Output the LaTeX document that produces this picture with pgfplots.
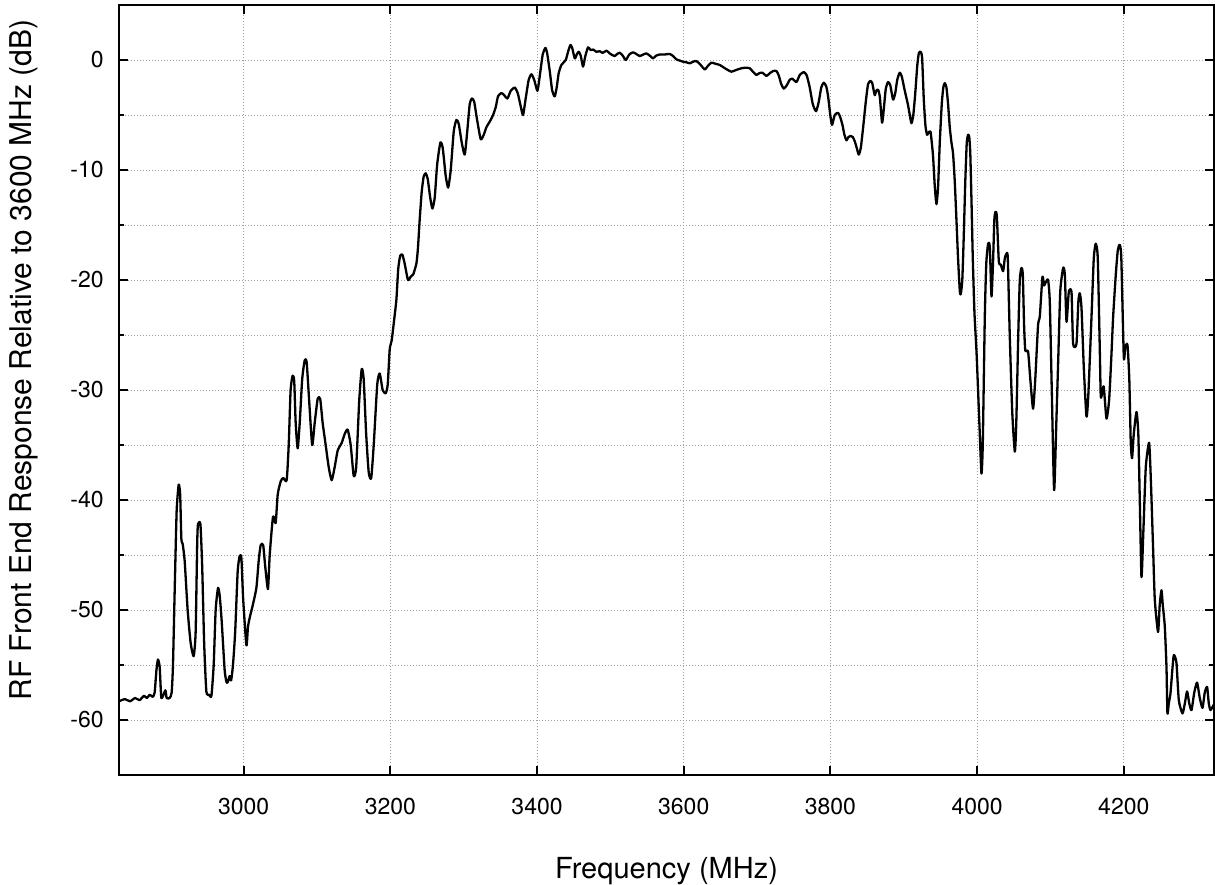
\documentclass[border=0pt]{standalone}
\usepackage{fontspec}
\setmainfont{TeX Gyre Heros}
\usepackage{pgfplots}
\pgfplotsset{compat=1.18}
\begin{document}
\begin{tikzpicture}
\begin{axis}[
  at={(0,0)}, anchor=south west,
  scale only axis, width=547.5pt, height=385pt,
  xmin=2830, xmax=4323, ymin=-65, ymax=5,
  xtick={3000,3200,...,4200},
  ytick={-60,-50,...,0},
  minor ytick={-55,-45,...,-5},
  /pgf/number format/assume math mode=true,
  /pgf/number format/1000 sep={},
  tick label style={font=\fontsize{11.5}{13}\selectfont},
  xticklabel style={anchor=north, inner sep=0pt, yshift=-11.5pt},
  yticklabel style={anchor=east, inner sep=0pt, xshift=-7.5pt},
  tick align=inside,
  xtick pos=both, ytick pos=both,
  xticklabel pos=left, yticklabel pos=left,
  major tick length=4.5pt, minor tick length=2.5pt,
  every tick/.style={black, line width=1pt},
  axis line style={line width=1pt},
  grid=both,
  major grid style={gray!75, line width=0.5pt, dash pattern=on 0.5pt off 1pt},
  minor grid style={gray!75, line width=0.5pt, dash pattern=on 0.5pt off 1pt},
  xlabel={Frequency (MHz)},
  ylabel={RF Front End Response Relative to 3600 MHz (dB)},
  xlabel style={font=\fontsize{14.5}{16}\selectfont, at={(axis description cs:0.5,-0.1338)}, anchor=base},
  ylabel style={font=\fontsize{15}{17}\selectfont, at={(axis description cs:-0.07945,0.539)}, anchor=base},
]
\addplot[black, line width=1.15pt, smooth, tension=0.35, line join=round] coordinates {
(2830,-58.3) (2838,-58.1) (2845,-58.3) (2852,-58.0) (2858,-58.2) (2864,-57.8) (2868,-58.0) (2872,-57.7) (2876,-57.9)
(2878.6,-57.5) (2881,-55.5) (2883.1,-54.5) (2885.5,-55.2) (2887.8,-58.0) (2893.2,-57.3) (2895,-58) (2899.1,-58) (2901.8,-57.5)
(2903.6,-55) (2906,-48) (2908.6,-41) (2911.4,-38.6) (2913.4,-39.5) (2915,-43.5) (2916.8,-44) (2919.5,-45.5) (2923.6,-50)
(2927.7,-53) (2931.8,-54.2) (2934.5,-52) (2936.6,-44) (2937.7,-42.2) (2941,-42.2) (2943.4,-46) (2946.1,-53) (2949.1,-57.4)
(2952.7,-57.7) (2956,-57.8) (2959.1,-55) (2961.8,-50) (2965,-48) (2967.3,-48.7) (2970,-51) (2974.1,-55.5) (2976.8,-56.6)
(2978.6,-56.5) (2980.9,-56.0) (2982.9,-56.4) (2985.4,-55) (2988.4,-52) (2991.8,-46.5) (2994.5,-45.1) (2996.9,-45.3)
(2999.3,-49) (3003.7,-53.2) (3005.9,-51.5) (3008.9,-50.5) (3011.9,-49.7) (3017.3,-48.0) (3020.5,-45.5) (3023.2,-44.1)
(3026.6,-44.1) (3029.3,-46) (3033.1,-48.1) (3035.5,-45) (3040,-41.5) (3043.6,-42.1) (3046.4,-39.5) (3050.5,-38.3)
(3053.9,-38.0) (3058.6,-38.2) (3061.4,-35) (3064,-30) (3066.8,-28.7) (3068.9,-29.2) (3070.9,-33) (3073.6,-35.3)
(3076.4,-33) (3079.8,-29) (3083.2,-27.3) (3085.9,-27.5) (3089.3,-31) (3093.4,-35) (3096.8,-33) (3100.9,-30.8)
(3104.3,-30.8) (3107.7,-33) (3111.8,-35) (3115.9,-37) (3120,-38.2) (3124.1,-37) (3128.2,-35.5) (3133.7,-34.8)
(3137.7,-34) (3141.8,-33.6) (3145.9,-35) (3150,-37.8) (3153.4,-37) (3157.5,-31) (3160.9,-28.1) (3163.6,-29)
(3167,-34) (3170.5,-37.5) (3173.9,-38) (3177.3,-35) (3182.1,-29.5) (3185.5,-28.5) (3189.5,-30) (3193.6,-30.3)
(3196.4,-29.5) (3199.1,-26.3) (3201.8,-25.5) (3204.5,-24) (3208.2,-21.8) (3210.7,-19) (3213.4,-17.8) (3216.4,-17.7)
(3219.5,-18.5) (3224,-20) (3227.7,-19.7) (3231.1,-19.5) (3235.5,-18.5) (3237.6,-17.1) (3240,-14.5) (3242.7,-12)
(3245.4,-10.6) (3248.2,-10.3) (3250.9,-10.8) (3254.3,-12.5) (3257.3,-13.5) (3260.5,-12.5) (3263.8,-9.5) (3268.2,-7.5)
(3271.4,-8) (3275.4,-10.5) (3278.8,-11.6) (3282.3,-10) (3286.4,-6.5) (3290,-5.45) (3293.2,-5.8) (3297.3,-7.5)
(3301.4,-8.6) (3304.8,-6.5) (3308.2,-4) (3311.2,-3.5) (3314.3,-3.8) (3318.4,-5.5) (3323.2,-7.2) (3327.3,-6.8)
(3331,-6.1) (3335.5,-5.6) (3340,-5.0) (3343.6,-4.3) (3346.8,-3.3) (3351.4,-3.0) (3355.2,-3.2) (3359.6,-3.5)
(3364.1,-2.8) (3369.5,-2.5) (3373.6,-3.0) (3377.7,-4.2) (3380.9,-5.0) (3384.5,-3.5) (3388.6,-1.8) (3392.3,-1.3)
(3396.1,-1.8) (3400.5,-2.8) (3403.6,-1.5) (3407.7,0.5) (3411.4,1.1) (3413.8,0.6) (3417.3,-1.0) (3420.7,-2.8)
(3424.1,-3.3) (3426.8,-2.5) (3429.5,-1.2) (3433.2,-0.45) (3439.1,0.0) (3442.5,0.8) (3445.5,1.36) (3447.9,1.1)
(3451.4,0.15) (3454.1,0.5) (3456.8,0.75) (3459.5,0.4) (3462.7,-0.6) (3465.6,0.3) (3469.5,1.15) (3473.2,0.9)
(3476.6,0.95) (3480.9,0.75) (3485.5,0.8) (3489.5,0.65) (3494.6,0.85) (3499.1,0.6) (3502.5,0.45) (3505.9,0.36)
(3509.3,0.55) (3512.7,0.66) (3516.8,0.4) (3520.9,0.0) (3525.7,0.5) (3530.9,0.7) (3535.2,0.55) (3540,0.36)
(3544.8,0.5) (3549.1,0.6) (3553.6,0.4) (3558.1,0.15) (3562.5,0.4) (3567.3,0.5) (3574.1,0.5) (3580.9,0.55)
(3585.7,0.35) (3590,0.06) (3594.5,-0.05) (3599,-0.15) (3603.4,-0.2) (3608.2,-0.3) (3612.9,-0.15) (3617.3,-0.1)
(3622.5,-0.4) (3628.6,-0.85) (3633.4,-0.5) (3637.8,-0.24) (3643.6,-0.35) (3649.1,-0.45) (3657.3,-0.8) (3665,-1.06)
(3671.6,-0.9) (3678.7,-0.75) (3684.5,-0.7) (3690,-0.75) (3694.8,-1.1) (3699.1,-1.36) (3702.9,-1.2) (3707.3,-1.15)
(3712.7,-1.45) (3717.3,-1.2) (3722,-1.0) (3726.4,-1.0) (3729.5,-1.4) (3733,-2.2) (3736.4,-2.6) (3740.5,-2.3)
(3744.5,-1.8) (3748.2,-1.7) (3753.7,-2.0) (3758.2,-1.36) (3763.6,-1.1) (3767.7,-1.4) (3771.8,-2.5) (3775.9,-4.0)
(3780.4,-4.65) (3784.1,-3.8) (3787.5,-2.5) (3790.9,-2.06) (3794.3,-2.4) (3796.8,-3.3) (3799.8,-5.0) (3802.2,-5.9)
(3805.9,-5.0) (3810.4,-4.8) (3813.4,-5.2) (3816.4,-5.9) (3819.1,-6.8) (3821.9,-7.3) (3824.6,-7.0) (3827.3,-6.9)
(3830.5,-7.0) (3833.2,-7.4) (3835.9,-8.0) (3838.6,-8.6) (3841.4,-8.0) (3844.8,-6.0) (3848.2,-3.8) (3851.3,-2.2)
(3854.5,-1.9) (3857,-2.1) (3859.1,-2.8) (3860.5,-3.2) (3862.5,-2.8) (3865,-2.7) (3867.3,-3.3) (3870.4,-5.7)
(3872.7,-4.5) (3875.5,-2.6) (3878.6,-2.0) (3881.6,-2.3) (3885.4,-3.6) (3888.4,-3.0) (3891.1,-1.8) (3894.5,-1.15)
(3897.3,-1.5) (3901.4,-2.8) (3905.5,-4.0) (3908.2,-5.0) (3910.5,-5.75) (3913,-5.0) (3915.7,-3.0) (3918.4,-0.5)
(3920.5,0.6) (3922.8,0.76) (3925,0.2) (3927.3,-3.6) (3929.6,-6.0) (3931.8,-6.8) (3933.7,-6.6) (3936.4,-6.5)
(3938.2,-7.5) (3940,-8.8) (3942.3,-11.5) (3944.6,-13.1) (3946.8,-11.5) (3949.1,-7.5) (3951.8,-4) (3953.9,-2.5)
(3955.9,-2.1) (3958.2,-2.5) (3960.4,-4.0) (3962.7,-6.1) (3965,-7.5) (3967.2,-8.5) (3969.5,-11) (3971.8,-14.5)
(3974,-18) (3976.4,-21.0) (3977.7,-21.3) (3979.8,-20) (3981.8,-16) (3983.9,-11) (3985.9,-7.5) (3987.7,-6.8)
(3989.3,-7.0) (3990.7,-8.5) (3992.3,-12.7) (3994.1,-18) (3996.4,-23) (3999.1,-26.4) (4001.6,-30.5) (4003.6,-33.9)
(4005.9,-37.6) (4007.7,-35) (4010.5,-23.3) (4012.5,-18.5) (4015,-16.7) (4017.3,-17) (4019.6,-21.5) (4021.8,-18.2)
(4023.5,-14.5) (4025.1,-13.8) (4026.9,-14.2) (4029.6,-18.3) (4032.3,-18.6) (4035.5,-19.2) (4037.8,-18) (4040.1,-17.6)
(4041.8,-18) (4044.5,-25) (4047.9,-32) (4051.4,-35.6) (4053.4,-33) (4056.1,-25) (4058.2,-20) (4060.5,-18.9)
(4062.3,-19.5) (4064,-24) (4065.7,-26.4) (4069.5,-26.5) (4072.5,-29) (4076.3,-31.7) (4079.3,-29) (4083.1,-24.1)
(4085.5,-23.3) (4089.1,-19.7) (4091.3,-20.5) (4093.6,-20.2) (4096.8,-20) (4099.1,-22) (4101.8,-30) (4105,-39.1)
(4108,-33) (4110.7,-27) (4113.4,-21) (4117.3,-18.9) (4119.6,-19.5) (4121.9,-23.8) (4125,-21.1) (4128.7,-21.1)
(4130.9,-25.8) (4135.5,-25.8) (4138,-22) (4140,-21.2) (4142.3,-22.5) (4145.5,-28) (4149.1,-32.4) (4151.6,-30.5)
(4156,-23.3) (4159.1,-18) (4161.8,-16.7) (4164.5,-18) (4167.3,-26.4) (4168.6,-30.6) (4170.7,-30.2) (4172.7,-29.7)
(4176.4,-32.6) (4180,-30.9) (4183,-27) (4185.5,-23.3) (4189.1,-19.5) (4191.8,-17.3) (4194.5,-16.8) (4196.6,-18)
(4200,-27) (4202,-26.1) (4205,-25.9) (4207.5,-29) (4209.5,-34.8) (4211.3,-36.2) (4213.6,-34) (4217.3,-32)
(4219.8,-34) (4221.8,-40) (4224.1,-47) (4226.6,-43) (4230,-37) (4234.5,-34.8) (4236.8,-38) (4240,-44.5)
(4242.3,-49.1) (4246.7,-52) (4249,-49.5) (4251.4,-48.2) (4253.1,-49.5) (4255.9,-51.5) (4258.2,-55.2) (4259.5,-59.4)
(4261.3,-58.5) (4263.6,-57.6) (4266.1,-55.5) (4268.2,-54.1) (4271.8,-54.8) (4275,-58.2) (4280,-59.4) (4283.2,-58.5)
(4286.3,-57.4) (4289.3,-58.5) (4292.3,-59.1) (4296.1,-57.5) (4299.9,-56.6) (4303.6,-58) (4307.3,-58.9) (4310.4,-57.5)
(4313.6,-57) (4315.9,-58.5) (4318.2,-59.1) (4322.7,-58.6)
};
\end{axis}
\pgfresetboundingbox
\useasboundingbox (-59.5pt,-54.5pt) rectangle (548pt,387.5pt);
\end{tikzpicture}
\end{document}
